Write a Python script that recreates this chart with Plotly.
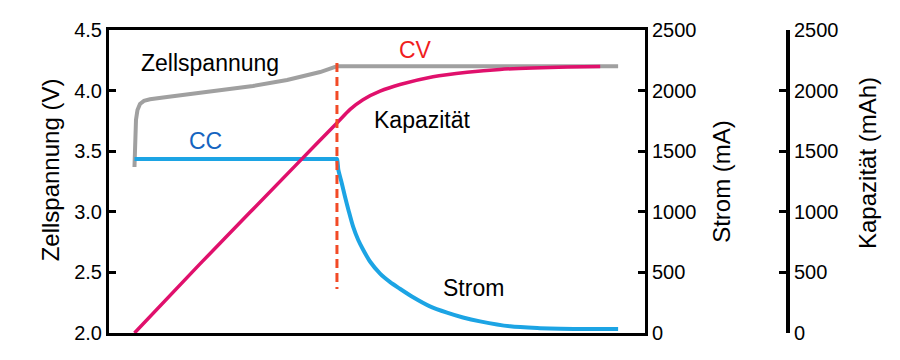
import plotly.graph_objects as go

# ---- data (time in minutes) ----
volt_t = [0, 0.18, 0.54, 1.07, 1.96, 3.39, 5.54, 11.6, 23.4, 33.4, 42.3, 54.5, 66.3, 70.9, 72.3, 172.7]
volt_v = [3.37, 3.62, 3.76, 3.84, 3.89, 3.915, 3.928, 3.947, 3.98, 4.008, 4.038, 4.087, 4.153, 4.19, 4.20, 4.20]

curr_t = [0, 71.8, 72.3, 72.8, 74.0, 75.2, 76.4, 78.1, 79.9, 81.7, 84.1, 87.7, 91.3, 94.8, 99.5,
          105.5, 111.6, 117.3, 123.4, 134.1, 144.8, 152.0, 172.7]
curr_ma = [1436, 1436, 1436, 1345, 1238, 1122, 1015, 875, 767, 685, 590, 490, 420, 365, 295,
           220, 168, 128, 96, 55, 40, 35, 33]

cap_t = [0, 23.4, 59.1, 72.3, 77.0, 81.6, 87.7, 94.8, 106.6, 118.8, 130.5, 142.3, 154.5, 166.3]
cap_mah = [0, 570, 1420, 1733, 1845, 1925, 1995, 2050, 2115, 2152, 2175, 2187, 2195, 2199]

cv_start_t = 72.3
cv_marker_v = [4.228, 2.363]

volt_ticks = [2.0, 2.5, 3.0, 3.5, 4.0, 4.5]
ma_ticks = [0, 500, 1000, 1500, 2000, 2500]

FONT = "Liberation Sans, Arial, Helvetica, sans-serif"
GRAY = "#a0a0a0"
MAGENTA = "#e0106c"
BLUE = "#1ca4e4"
DASH = "#f24a26"

fig = go.Figure()
fig.add_trace(go.Scatter(x=volt_t, y=volt_v, mode="lines", line=dict(color=GRAY, width=4),
                         yaxis="y", showlegend=False, hoverinfo="skip"))
fig.add_trace(go.Scatter(x=curr_t, y=curr_ma, mode="lines",
                         line=dict(color=BLUE, width=4, shape="spline", smoothing=0.8),
                         yaxis="y2", showlegend=False, hoverinfo="skip"))
fig.add_trace(go.Scatter(x=cap_t, y=cap_mah, mode="lines",
                         line=dict(color=MAGENTA, width=3.5, shape="spline", smoothing=0.6),
                         yaxis="y3", showlegend=False, hoverinfo="skip"))

fig.add_shape(type="line", xref="x", yref="y", x0=cv_start_t, x1=cv_start_t,
              y0=cv_marker_v[0], y1=cv_marker_v[1], layer="above",
              line=dict(color=DASH, width=3, dash="9px,5px"))

ann_font = dict(family=FONT, size=23, color="black")
titlefont = dict(family=FONT, size=24, color="black")
annotations = [
    dict(text="Zellspannung", x=27, y=4.228, font=ann_font),
    dict(text="CC", x=25.2, y=3.584, font=dict(family=FONT, size=23, color="#1464c0")),
    dict(text="CV", x=100.5, y=4.335, font=dict(family=FONT, size=23, color="#f01e1e")),
    dict(text="Kapazität", x=103, y=3.757, font=ann_font),
    dict(text="Strom", x=121, y=2.371, font=ann_font),
]
for a in annotations:
    a.update(xref="x", yref="y", showarrow=False, xanchor="center", yanchor="middle")

# axis titles placed as rotated text
annotations += [
    dict(text="Zellspannung (V)", xref="paper", yref="paper", x=-0.0869, y=0.54, textangle=-90,
         showarrow=False, xanchor="center", yanchor="middle", font=titlefont),
    dict(text="Kapazität (mAh)", xref="paper", yref="paper", x=1.1163, y=0.561, textangle=-90,
         showarrow=False, xanchor="center", yanchor="middle", font=titlefont),
]

tickfont = dict(family=FONT, size=20, color="black")

fig.update_layout(
    width=900, height=360,
    margin=dict(l=101, r=120, t=22, b=35),
    plot_bgcolor="white", paper_bgcolor="white",
    annotations=annotations,
    xaxis=dict(domain=[0, 536 / 679], range=[-9.1, 182.3], showline=True, linecolor="black", linewidth=3,
               mirror=True, showticklabels=False, ticks="", showgrid=False, zeroline=False),
    yaxis=dict(range=[2.0, 4.5], tickvals=volt_ticks, ticktext=[f"{v:.1f}" for v in volt_ticks],
               showline=True, linecolor="black", linewidth=3, ticks="inside", ticklen=7, tickwidth=3,
               tickcolor="black", showgrid=False, zeroline=False, tickfont=tickfont),
    yaxis2=dict(range=[0, 2500], tickvals=ma_ticks, overlaying="y", side="right", anchor="x",
                showline=True, linecolor="black", linewidth=3, ticks="inside", ticklen=7, tickwidth=3,
                tickcolor="black", showgrid=False, zeroline=False, tickfont=tickfont,
                title=dict(text="Strom (mA)", font=titlefont, standoff=18)),
    yaxis3=dict(range=[0, 2500], tickvals=ma_ticks, overlaying="y", side="right", anchor="free", position=1,
                showline=True, linecolor="black", linewidth=4, ticks="inside", ticklen=7, tickwidth=3,
                tickcolor="black", showgrid=False, zeroline=False, tickfont=tickfont),
)

fig.write_html("out.html")
